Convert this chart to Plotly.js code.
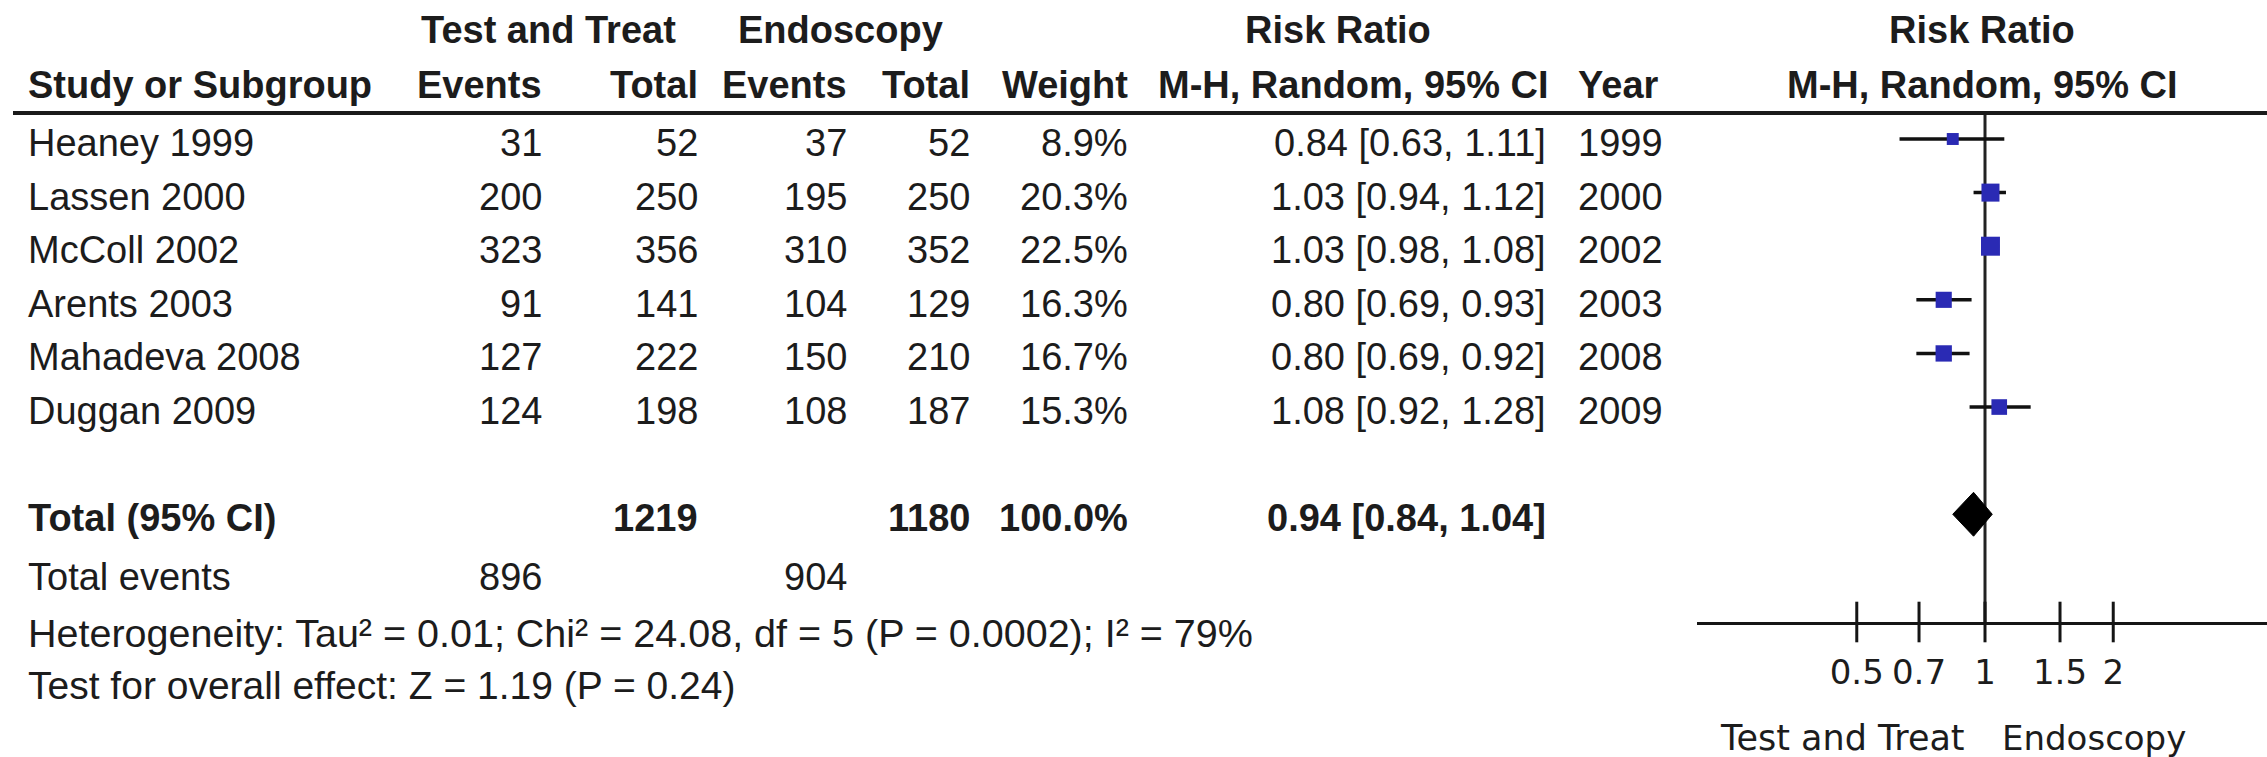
<!DOCTYPE html>
<html>
<head>
<meta charset="utf-8">
<script src="https://cdn.plot.ly/plotly-3.0.1.min.js"></script>
<style>
  html, body { margin: 0; padding: 0; background: #ffffff; }
  #forest { width: 2267px; height: 757px; }
</style>
</head>
<body>
<div id="forest"></div>
<script>
// Study-level data: Test and Treat vs Endoscopy
const studies    = ['Heaney 1999', 'Lassen 2000', 'McColl 2002', 'Arents 2003', 'Mahadeva 2008', 'Duggan 2009'];
const ttEvents   = [31, 200, 323, 91, 127, 124];
const ttTotal    = [52, 250, 356, 141, 222, 198];
const endoEvents = [37, 195, 310, 104, 150, 108];
const endoTotal  = [52, 250, 352, 129, 210, 187];
const weights    = [8.9, 20.3, 22.5, 16.3, 16.7, 15.3];
const riskRatio  = [0.84, 1.03, 1.03, 0.80, 0.80, 1.08];
const ciLow      = [0.63, 0.94, 0.98, 0.69, 0.69, 0.92];
const ciHigh     = [1.11, 1.12, 1.08, 0.93, 0.92, 1.28];
const years      = [1999, 2000, 2002, 2003, 2008, 2009];

// Pooled result
const pooledTTTotal    = 1219;
const pooledEndoTotal  = 1180;
const pooledWeight     = 100.0;
const pooledRR         = [0.94];
const pooledLow        = [0.84];
const pooledHigh       = [1.04];
const pooledTTEvents   = 896;
const pooledEndoEvents = 904;

// Heterogeneity and overall effect
const tau2 = '0.01', chi2 = '24.08', hetDf = 5, hetP = '0.0002', i2 = 79;
const zValue = '1.19', zP = '0.24';

// Axis ticks
const tickVals = [0.5, 0.7, 1, 1.5, 2];
const tickText = ['0.5', '0.7', '1', '1.5', '2'];

// ---- page geometry (pixels) ----
const W = 2267, H = 757;
const px = x => x / W;
const py = y => 1 - y / H;

const TABLE_FONT = 'Liberation Sans, Arial, sans-serif';
const AXIS_FONT  = 'DejaVu Sans, sans-serif';
const INK = '#1c1c1c';
const FS = 38;

const totalRow = 7;          // pooled row index (one blank row after the studies)
const axisRow  = 9.01;       // bottom of the plotting band, where the axis sits
const rowShift = -4;

const annotations = [];
function txt(text, x, y, anchor, opts) {
  opts = opts || {};
  annotations.push({
    text: text,
    x: px(x), xref: 'paper', xanchor: anchor,
    y: y, yref: opts.yref || 'paper', yanchor: 'middle',
    yshift: opts.yshift || 0,
    showarrow: false,
    font: { family: opts.family || TABLE_FONT, size: opts.size || FS, color: INK }
  });
}

// Header rows
txt('<b>Test and Treat</b>', 548, py(30), 'center');
txt('<b>Endoscopy</b>', 840, py(30), 'center');
txt('<b>Risk Ratio</b>', 1338, py(30), 'center');
txt('<b>Risk Ratio</b>', 1982, py(30), 'center');

txt('<b>Study or Subgroup</b>', 26, py(85), 'left');
txt('<b>Events</b>', 544, py(85), 'right');
txt('<b>Total</b>', 700, py(85), 'right');
txt('<b>Events</b>', 849, py(85), 'right');
txt('<b>Total</b>', 972, py(85), 'right');
txt('<b>Weight</b>', 1130, py(85), 'right');
txt('<b>M-H, Random, 95% CI</b>', 1353, py(85), 'center');
txt('<b>Year</b>', 1576, py(85), 'left');
txt('<b>M-H, Random, 95% CI</b>', 1982, py(85), 'center');

// Study rows
const fmtCI = (r, l, h) => r.toFixed(2) + ' [' + l.toFixed(2) + ', ' + h.toFixed(2) + ']';
studies.forEach((s, i) => {
  const o = { yref: 'y', yshift: rowShift };
  txt(s, 26, i, 'left', o);
  txt(String(ttEvents[i]), 544, i, 'right', o);
  txt(String(ttTotal[i]), 700, i, 'right', o);
  txt(String(endoEvents[i]), 849, i, 'right', o);
  txt(String(endoTotal[i]), 972, i, 'right', o);
  txt(weights[i].toFixed(1) + '%', 1130, i, 'right', o);
  txt(fmtCI(riskRatio[i], ciLow[i], ciHigh[i]), 1548, i, 'right', o);
  txt(String(years[i]), 1576, i, 'left', o);
});

// Pooled row
{
  const o = { yref: 'y', yshift: rowShift };
  txt('<b>Total (95% CI)</b>', 26, totalRow, 'left', o);
  txt('<b>' + pooledTTTotal + '</b>', 700, totalRow, 'right', o);
  txt('<b>' + pooledEndoTotal + '</b>', 972, totalRow, 'right', o);
  txt('<b>' + pooledWeight.toFixed(1) + '%</b>', 1130, totalRow, 'right', o);
  txt('<b>' + fmtCI(pooledRR[0], pooledLow[0], pooledHigh[0]) + '</b>', 1548, totalRow, 'right', o);
}

// Footer lines
txt('Total events', 26, py(577), 'left');
txt(String(pooledTTEvents), 544, py(577), 'right');
txt(String(pooledEndoEvents), 849, py(577), 'right');
txt('Heterogeneity: Tau² = ' + tau2 + '; Chi² = ' + chi2 + ', df = ' + hetDf +
    ' (P = ' + hetP + '); I² = ' + i2 + '%', 26, py(633), 'left', { size: 39.5 });
txt('Test for overall effect: Z = ' + zValue + ' (P = ' + zP + ')', 26, py(685), 'left', { size: 39 });

// Favours labels under the axis
txt('Test and Treat', 1967, py(738), 'right', { family: AXIS_FONT, size: 35 });
txt('Endoscopy', 2000, py(738), 'left', { family: AXIS_FONT, size: 34 });

// ---- traces ----
const rows = studies.map((_, i) => i);

// confidence-interval whiskers, one segment per study
const ciX = [], ciY = [];
rows.forEach(i => { ciX.push(ciLow[i], ciHigh[i], null); ciY.push(i, i, null); });

const whiskers = {
  type: 'scatter', mode: 'lines', x: ciX, y: ciY,
  line: { color: '#111111', width: 3.5 }, hoverinfo: 'skip', cliponaxis: false
};

// study squares, area proportional to weight
const squares = {
  type: 'scatter', mode: 'markers', x: riskRatio, y: rows,
  marker: { symbol: 'square', color: '#2a2ab4', opacity: 1,
            size: weights.map(w => 4 * Math.sqrt(w)), line: { width: 0 } },
  hoverinfo: 'skip', cliponaxis: false
};

// pooled diamond
const dh = 0.41;
const diamond = {
  type: 'scatter', mode: 'lines', fill: 'toself', fillcolor: '#000000',
  x: [pooledLow[0], pooledRR[0], pooledHigh[0], pooledRR[0], pooledLow[0]],
  y: [totalRow, totalRow - dh, totalRow, totalRow + dh, totalRow],
  line: { color: '#000000', width: 1 }, hoverinfo: 'skip', cliponaxis: false
};

// tick marks crossing the axis line
const crossTicks = {
  type: 'scatter', mode: 'markers', x: tickVals, y: tickVals.map(() => axisRow),
  marker: { symbol: 'line-ns-open', size: 29, color: '#151515', line: { color: '#151515', width: 3 } },
  hoverinfo: 'skip', cliponaxis: false
};

const layout = {
  width: W, height: H,
  margin: { l: 0, r: 0, t: 0, b: 0 },
  paper_bgcolor: '#ffffff', plot_bgcolor: 'rgba(0,0,0,0)',
  showlegend: false,
  xaxis: {
    type: 'log',
    domain: [px(1697), 1],
    range: [-0.6761, 0.6620],
    showline: true, linecolor: '#151515', linewidth: 3,
    ticks: '', showgrid: false, zeroline: false,
    tickvals: tickVals, ticktext: tickText,
    tickfont: { family: AXIS_FONT, size: 34, color: INK },
    ticklabelstandoff: 18,
    fixedrange: true
  },
  yaxis: {
    domain: [py(622), py(113)],
    range: [axisRow, -0.485],
    visible: false, fixedrange: true
  },
  shapes: [
    // header rule
    { type: 'line', xref: 'paper', yref: 'paper', x0: px(13), x1: 1, y0: py(113), y1: py(113),
      line: { color: '#1a1a1a', width: 4 } },
    // line of no effect
    { type: 'line', xref: 'x', yref: 'y domain', x0: 1, x1: 1, y0: 0, y1: 1,
      line: { color: '#222222', width: 3 }, layer: 'below' }
  ],
  annotations: annotations
};

Plotly.newPlot('forest', [whiskers, squares, diamond, crossTicks], layout, { staticPlot: true, displayModeBar: false });
</script>
</body>
</html>
